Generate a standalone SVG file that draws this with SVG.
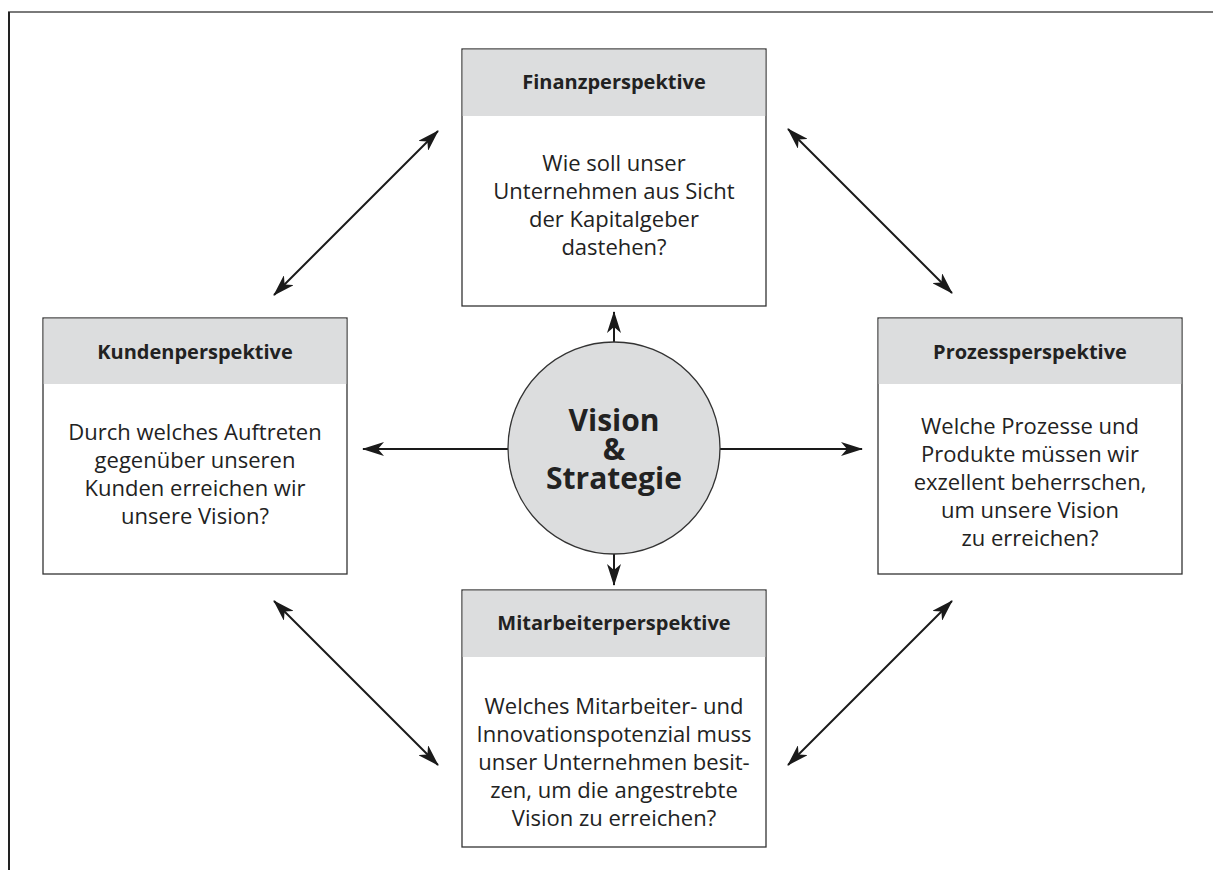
<svg xmlns="http://www.w3.org/2000/svg" width="1213" height="870" viewBox="0 0 1213 870">
<style>
.box{fill:#fff;stroke:#333;stroke-width:1.3}
.hdr{fill:#dcddde}
.ht{font-family:"Open Sans","DejaVu Sans",sans-serif;font-weight:bold;font-size:20px;fill:#222;text-anchor:middle}
.bt{font-family:"Open Sans","DejaVu Sans",sans-serif;font-size:22px;fill:#222;text-anchor:middle}
.ct{font-family:"Open Sans","DejaVu Sans",sans-serif;font-weight:bold;font-size:30px;fill:#222;text-anchor:middle}
.con{stroke:#1a1a1a;stroke-width:2;fill:none}
</style>
<defs>
<marker id="ah" viewBox="0 0 22 14" refX="21" refY="7" markerWidth="22" markerHeight="14" markerUnits="userSpaceOnUse" orient="auto-start-reverse">
<path d="M0,0 L22,7 L0,14 L6,7 Z" fill="#1a1a1a"/>
</marker>
</defs>
<rect x="0" y="0" width="1213" height="870" fill="#fff"/>
<g id="frame">
<line x1="8" y1="12" x2="1213" y2="12" stroke="#7a7a7a" stroke-width="2"/>
<line x1="9" y1="12" x2="9" y2="870" stroke="#222" stroke-width="2"/>
</g>
<g id="connectors">
<line class="con" x1="274" y1="295" x2="438" y2="131" marker-start="url(#ah)" marker-end="url(#ah)"/>
<line class="con" x1="788" y1="129" x2="952" y2="293" marker-start="url(#ah)" marker-end="url(#ah)"/>
<line class="con" x1="274" y1="601" x2="438" y2="765" marker-start="url(#ah)" marker-end="url(#ah)"/>
<line class="con" x1="952" y1="601" x2="788" y2="765" marker-start="url(#ah)" marker-end="url(#ah)"/>
<line class="con" x1="614" y1="343" x2="614" y2="312" marker-end="url(#ah)"/>
<line class="con" x1="614" y1="553" x2="614" y2="585" marker-end="url(#ah)"/>
<line class="con" x1="508" y1="449" x2="363" y2="449" marker-end="url(#ah)"/>
<line class="con" x1="720" y1="449" x2="862" y2="449" marker-end="url(#ah)"/>
</g>
<g id="finanz">
<rect class="box" x="462" y="49" width="304" height="257"/>
<rect class="hdr" x="462.7" y="49.7" width="302.6" height="66.3"/>
<text class="ht" x="614" y="89">Finanzperspektive</text>
<text class="bt" x="614" y="171">Wie soll unser</text>
<text class="bt" x="614" y="199">Unternehmen aus Sicht</text>
<text class="bt" x="614" y="227">der Kapitalgeber</text>
<text class="bt" x="614" y="255">dastehen?</text>
</g>
<g id="kunden">
<rect class="box" x="43" y="318" width="304" height="256"/>
<rect class="hdr" x="43.7" y="318.7" width="302.6" height="65.3"/>
<text class="ht" x="195" y="359">Kundenperspektive</text>
<text class="bt" x="195" y="440">Durch welches Auftreten</text>
<text class="bt" x="195" y="468">gegenüber unseren</text>
<text class="bt" x="195" y="496">Kunden erreichen wir</text>
<text class="bt" x="195" y="524">unsere Vision?</text>
</g>
<g id="prozess">
<rect class="box" x="878" y="318" width="304" height="256"/>
<rect class="hdr" x="878.7" y="318.7" width="302.6" height="65.3"/>
<text class="ht" x="1030" y="359">Prozessperspektive</text>
<text class="bt" x="1030" y="434">Welche Prozesse und</text>
<text class="bt" x="1030" y="462">Produkte müssen wir</text>
<text class="bt" x="1030" y="490">exzellent beherrschen,</text>
<text class="bt" x="1030" y="518">um unsere Vision</text>
<text class="bt" x="1030" y="546">zu erreichen?</text>
</g>
<g id="mitarbeiter">
<rect class="box" x="462" y="590" width="304" height="257"/>
<rect class="hdr" x="462.7" y="590.7" width="302.6" height="66.3"/>
<text class="ht" x="614" y="630">Mitarbeiterperspektive</text>
<text class="bt" x="614" y="714">Welches Mitarbeiter- und</text>
<text class="bt" x="614" y="742">Innovationspotenzial muss</text>
<text class="bt" x="614" y="770">unser Unternehmen besit-</text>
<text class="bt" x="614" y="798">zen, um die angestrebte</text>
<text class="bt" x="614" y="826">Vision zu erreichen?</text>
</g>
<g id="vision">
<circle cx="614" cy="448" r="106" fill="#dcddde" stroke="#333" stroke-width="1.3"/>
<text class="ct"><tspan x="614" y="431">Vision</tspan><tspan x="614" y="460">&amp;</tspan><tspan x="614" y="489">Strategie</tspan></text>
</g>
</svg>
